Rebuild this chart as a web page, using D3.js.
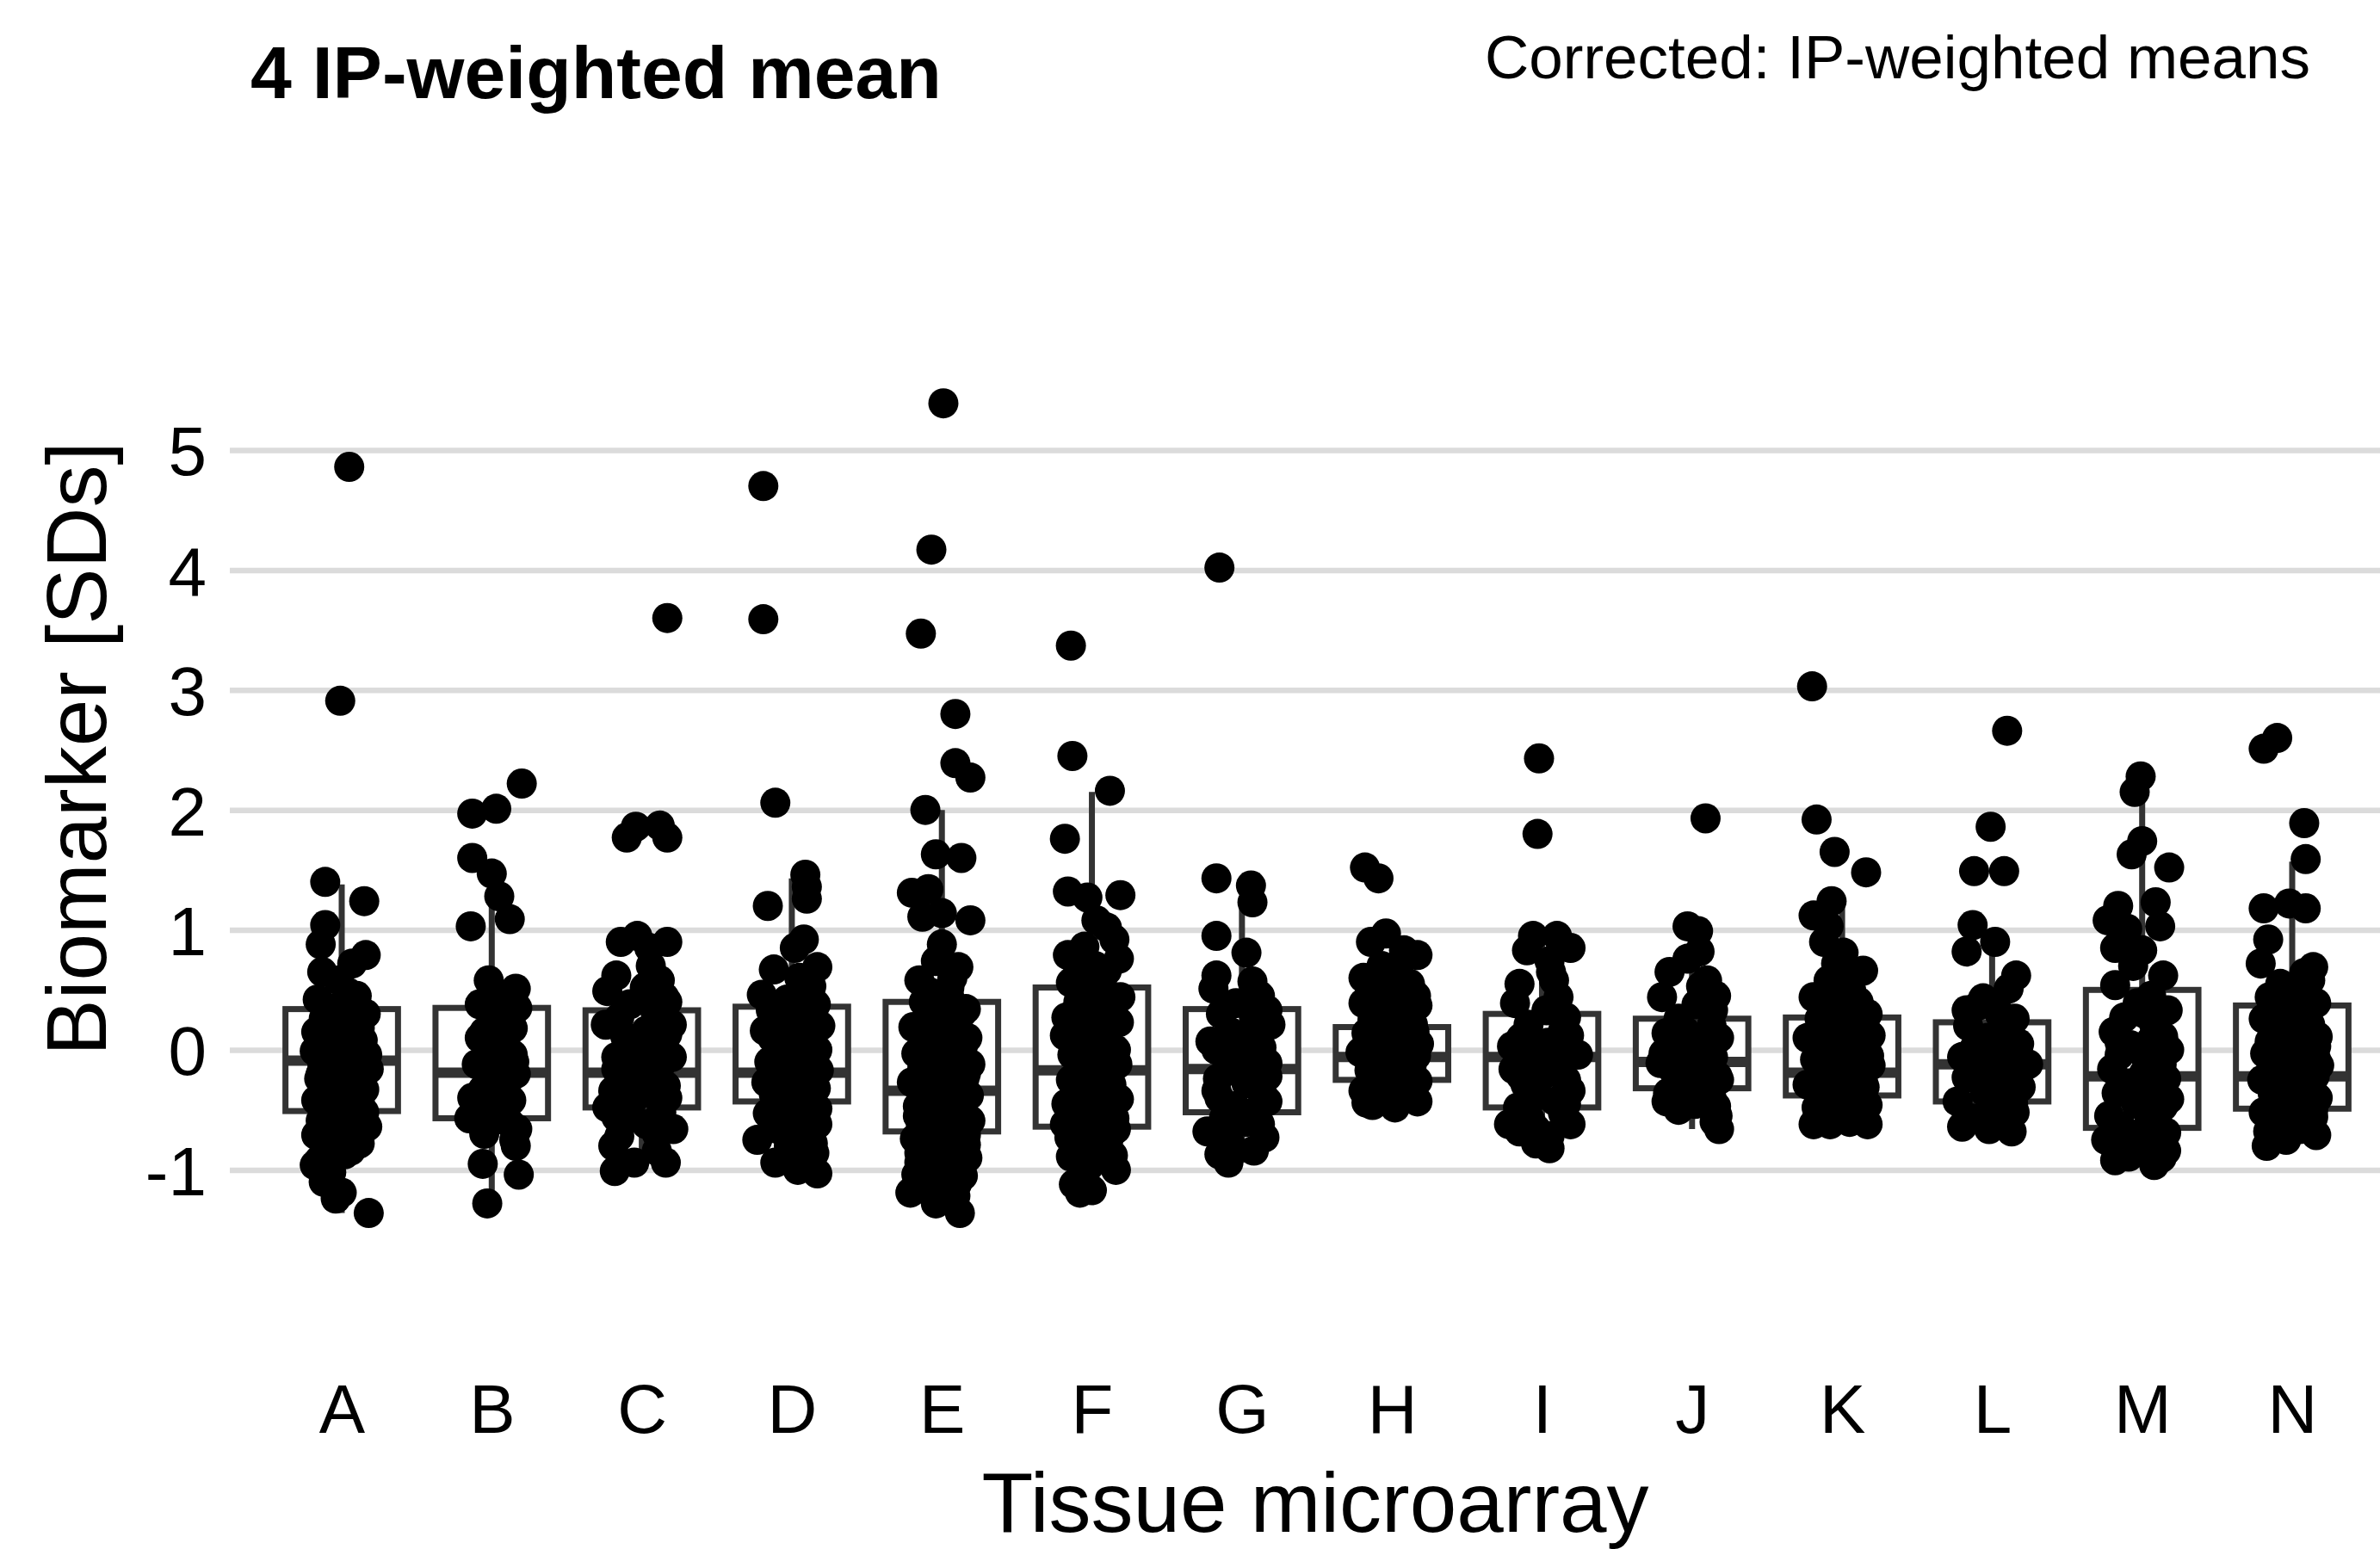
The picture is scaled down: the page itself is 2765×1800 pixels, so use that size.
<!DOCTYPE html>
<html><head><meta charset="utf-8">
<script src="https://cdn.jsdelivr.net/npm/d3@7"></script>
<style>body{margin:0;background:#fff}svg{display:block}text{font-family:"Liberation Sans",Arial,Helvetica,sans-serif;fill:#000}</style>
</head><body><svg id="c" width="2765" height="1800"></svg>
<script>
// ---------------- DATA ----------------
const categories = ["A","B","C","D","E","F","G","H","I","J","K","L","M","N"];
const yTicks = [-1, 0, 1, 2, 3, 4, 5];
const titleText = "4 IP-weighted mean";
const subtitleText = "Corrected: IP-weighted means";
const xTitle = "Tissue microarray";
const yTitle = "Biomarker [SDs]";

// box statistics
const whiskerLo = [-1.36,-1.28,-1.01,-1.03,-1.36,-1.19,-0.94,-0.48,-0.82,-0.66,-0.62,-0.68,-0.96,-0.80];
const q1s       = [-0.51,-0.57,-0.48,-0.43,-0.68,-0.64,-0.52,-0.25,-0.48,-0.32,-0.38,-0.43,-0.65,-0.49];
const medians   = [-0.09,-0.19,-0.19,-0.19,-0.34,-0.17,-0.16,-0.06,-0.06,-0.10,-0.19,-0.12,-0.22,-0.22];
const q3s       = [ 0.34, 0.35, 0.33, 0.36, 0.40, 0.52, 0.34, 0.19, 0.30, 0.26, 0.27, 0.23, 0.50, 0.37];
const whiskerHi = [ 1.38, 1.55, 0.95, 1.43, 2.00, 2.15, 1.27, 0.80, 0.95, 1.03, 1.22, 0.92, 2.25, 1.57];

// points: [value, jitter (fraction of category step)]
const ptsA = [[4.86,0.05],[2.91,-0.01],[1.40,-0.11],[1.24,0.15],[1.04,-0.11],[0.88,-0.14],[0.79,0.16],[0.72,0.07],[0.65,-0.13],[0.58,-0.02],
[0.48,0.04],[0.42,-0.16],[0.38,0.10],[0.33,-0.06],[0.30,0.16],[0.26,-0.12],[0.22,0.02],[0.18,0.12],[0.15,-0.17],[0.11,-0.03],[0.08,0.14],[0.05,-0.09],[0.02,0.06],[-0.01,-0.18],[-0.04,0.17],[-0.06,-0.02],[-0.09,0.09],[-0.11,-0.13],[-0.13,0.03],[-0.16,0.18],[-0.18,-0.07],[-0.21,0.11],[-0.24,-0.15],[-0.27,0.05],[-0.30,-0.04],[-0.33,0.15],[-0.36,-0.11],[-0.39,0.08],[-0.42,-0.17],[-0.45,0.01],[-0.48,0.13],[-0.51,-0.08],
[-0.55,0.04],[-0.59,-0.14],[-0.64,0.17],[-0.67,-0.03],[-0.71,-0.17],[-0.74,0.08],[-0.78,0.12],[-0.82,-0.10],[-0.87,0.02],[-0.92,-0.15],[-0.96,-0.18],[-1.02,-0.07],[-1.10,-0.12],[-1.19,0.00],[-1.24,-0.04],[-1.36,0.18],
[0.45,0.10],[0.36,-0.02],[0.28,0.08],[0.20,-0.09],[0.12,0.07],[0.03,-0.13],[-0.03,0.12],[-0.08,-0.05],[-0.15,0.08],[-0.20,-0.14],[-0.26,0.13],[-0.32,-0.01],[-0.38,-0.13],[-0.44,0.10],[-0.52,0.15],[-0.60,0.02],[-0.66,0.13],[-0.70,-0.09],[-0.76,-0.01],[-0.84,0.06]];
const ptsB = [[2.22,0.20],[2.01,0.03],[1.97,-0.13],[1.60,-0.13],[1.47,0.00],[1.28,0.05],[1.09,0.12],[1.03,-0.14],[0.58,-0.02],[0.51,0.16],[0.45,0.05],[0.38,-0.08],[0.35,0.17],[0.28,0.02],[0.22,0.12],[0.15,-0.05],[0.10,-0.08],[0.05,0.09],[0.00,-0.03],[-0.04,0.14],[-0.08,0.01],[-0.12,-0.10],[-0.16,0.07],[-0.20,0.16],[-0.24,-0.02],[-0.28,0.10],[-0.33,-0.06],[-0.37,0.04],[-0.42,0.13],[-0.47,-0.01],[-0.52,-0.11],[-0.57,-0.15],[-0.61,0.12],[-0.66,0.17],[-0.70,-0.05],[-0.75,0.15],[-0.80,0.16],[-0.95,-0.06],[-1.04,0.18],[-1.28,-0.03],
[0.18,0.14],[-0.10,0.15],[-0.40,-0.13],[-0.62,-0.04]];
const ptsC = [[3.60,0.17],[1.87,0.12],[1.86,-0.04],[1.77,-0.10],[1.77,0.17],[0.95,-0.03],[0.90,-0.14],[0.90,0.17],[0.85,0.05],[0.62,-0.17],[0.58,0.12],[0.52,0.02],[0.49,-0.23],[0.44,0.15],[0.38,-0.08],[0.32,0.09],[0.27,-0.15],[0.21,-0.24],[0.21,0.20],[0.16,0.03],[0.11,-0.11],[0.06,0.14],[0.01,-0.05],[-0.03,0.08],[-0.06,-0.17],[-0.06,0.20],[-0.10,0.00],[-0.14,0.12],[-0.18,-0.12],[-0.22,0.05],[-0.26,-0.03],[-0.30,0.16],[-0.34,-0.19],[-0.38,0.09],[-0.42,-0.06],[-0.48,-0.23],[-0.52,0.13],[-0.58,-0.10],[-0.62,0.03],[-0.66,0.21],[-0.72,-0.15],[-0.80,-0.19],[-0.84,0.10],[-0.94,0.16],[-0.94,-0.05],[-1.01,-0.18],
[0.70,0.06],[0.40,0.17],[0.13,0.17],[-0.16,-0.17],[-0.40,0.17],[-0.56,-0.17],[-0.70,0.10]];
const ptsD = [[4.70,-0.19],[3.59,-0.19],[2.06,-0.11],[1.46,0.09],[1.36,0.10],[1.26,0.10],[1.20,-0.16],[0.92,0.08],[0.85,0.02],[0.69,0.17],[0.67,-0.12],[0.60,0.05],[0.53,0.13],[0.46,-0.20],[0.42,-0.03],[0.38,0.16],[0.33,-0.14],[0.29,0.07],[0.24,-0.07],[0.20,0.19],[0.16,-0.18],[0.12,0.02],[0.08,0.12],[0.04,-0.10],[0.00,0.17],[-0.03,-0.02],[-0.07,0.09],[-0.10,-0.15],[-0.14,0.04],[-0.17,0.18],[-0.20,-0.08],[-0.23,0.11],[-0.27,-0.17],[-0.30,0.01],[-0.34,0.14],[-0.37,-0.12],[-0.41,0.07],[-0.45,-0.04],[-0.49,0.17],[-0.53,-0.16],[-0.57,0.03],[-0.62,0.17],[-0.66,-0.09],[-0.71,0.10],[-0.75,-0.23],[-0.80,-0.02],[-0.86,0.15],[-0.94,-0.11],[-1.00,0.04],[-1.03,0.17],
[0.48,0.08],[0.26,0.14],[0.10,-0.13],[-0.05,0.13],[-0.19,-0.13],[-0.32,0.16],[-0.44,0.12],[-0.59,-0.11],[-0.68,0.04],[-0.78,0.14]];
const ptsE = [[5.39,0.01],[4.17,-0.07],[3.47,-0.14],[2.80,0.09],[2.39,0.09],[2.27,0.19],[2.00,-0.11],[1.63,-0.04],[1.60,0.13],[1.34,-0.09],[1.31,-0.20],[1.14,0.00],[1.11,-0.13],[1.08,0.19],[0.88,0.00],[0.74,-0.04],[0.69,0.11],[0.58,-0.15],[0.52,0.05],[0.44,0.05],[0.40,-0.12],[0.34,0.16],[0.28,-0.05],[0.22,0.09],[0.19,-0.19],[0.14,0.02],[0.10,0.17],[0.05,-0.10],[0.01,0.08],[-0.03,-0.17],[-0.06,0.13],[-0.09,-0.03],[-0.12,0.19],[-0.15,-0.13],[-0.18,0.06],[-0.21,-0.07],[-0.24,0.15],[-0.27,-0.20],[-0.30,0.02],[-0.32,0.10],[-0.35,-0.11],[-0.38,0.18],[-0.41,-0.02],[-0.44,0.07],[-0.47,-0.16],[-0.50,0.13],[-0.53,-0.06],[-0.56,0.03],[-0.59,0.19],[-0.62,-0.14],[-0.65,0.09],[-0.68,-0.01],[-0.71,0.16],[-0.74,-0.18],[-0.77,0.05],[-0.80,-0.09],[-0.83,0.12],[-0.87,-0.04],[-0.90,0.17],[-0.94,-0.15],[-0.97,0.07],[-1.01,-0.06],[-1.05,0.14],[-1.09,-0.12],[-1.13,0.03],[-1.19,-0.21],[-1.22,0.09],[-1.28,-0.04],[-1.36,0.12],
[0.60,0.07],[0.48,-0.08],[0.30,0.13],[0.16,-0.12],[0.03,0.14],[-0.10,0.08],[-0.20,0.16],[-0.29,-0.13],[-0.36,0.05],[-0.46,0.14],[-0.55,-0.16],[-0.63,0.14],[-0.72,-0.08],[-0.79,0.16],[-0.86,-0.15],[-0.92,0.04],[-0.99,0.13],[-1.04,-0.17],[-1.12,0.10],[-1.18,-0.07]];
const ptsF = [[3.37,-0.14],[2.45,-0.13],[2.16,0.12],[1.76,-0.18],[1.32,-0.16],[1.29,0.19],[1.27,-0.03],[1.08,0.03],[1.02,0.10],[0.92,0.15],[0.86,-0.05],[0.79,-0.16],[0.76,0.18],[0.70,0.02],[0.62,-0.10],[0.56,-0.14],[0.50,0.08],[0.44,0.19],[0.40,-0.09],[0.36,0.03],[0.31,0.14],[0.27,-0.17],[0.23,0.18],[0.18,0.00],[0.12,-0.18],[0.08,0.10],[0.04,-0.06],[0.00,0.16],[-0.04,-0.13],[-0.08,0.05],[-0.12,0.17],[-0.16,-0.03],[-0.20,0.09],[-0.25,-0.14],[-0.29,0.13],[-0.33,-0.06],[-0.37,0.04],[-0.41,0.18],[-0.45,-0.17],[-0.49,0.07],[-0.53,-0.09],[-0.57,0.15],[-0.62,-0.18],[-0.66,0.16],[-0.70,-0.02],[-0.75,0.11],[-0.80,-0.12],[-0.85,0.06],[-0.89,-0.14],[-0.94,0.13],[-1.00,0.16],[-1.05,-0.06],[-1.12,-0.12],[-1.19,-0.08],[-1.17,0.00],
[0.66,0.10],[0.47,-0.02],[0.20,-0.09],[-0.02,0.10],[-0.22,-0.01],[-0.39,-0.08],[-0.60,0.03],[-0.73,-0.15],[-0.88,0.14],[-0.97,-0.02]];
const ptsG = [[4.02,-0.15],[1.43,-0.17],[1.37,0.06],[1.23,0.07],[0.95,-0.17],[0.81,0.03],[0.62,-0.17],[0.57,0.07],[0.51,-0.19],[0.45,0.12],[0.39,-0.04],[0.33,0.17],[0.27,0.08],[0.21,0.19],[0.15,-0.08],[0.07,-0.21],[0.10,0.02],[0.02,0.13],[-0.03,-0.12],[-0.07,0.05],[-0.11,0.17],[-0.15,-0.06],[-0.19,0.10],[-0.24,-0.16],[-0.28,0.03],[-0.34,-0.17],[-0.38,0.14],[-0.43,0.17],[-0.47,-0.05],[-0.52,0.08],[-0.57,-0.12],[-0.62,0.12],[-0.68,-0.23],[-0.73,0.15],[-0.78,-0.08],[-0.84,0.08],[-0.87,-0.15],[-0.94,-0.09],
[0.30,-0.14],[0.00,-0.17],[-0.22,0.17],[-0.40,-0.15],[-0.60,0.03]];
const ptsH = [[1.52,-0.18],[1.43,-0.09],[0.97,-0.04],[0.90,-0.14],[0.83,0.08],[0.79,0.17],[0.65,0.04],[0.60,-0.19],[0.55,0.12],[0.50,-0.06],[0.45,0.16],[0.39,-0.19],[0.37,0.17],[0.33,-0.05],[0.29,0.09],[0.25,-0.13],[0.21,0.14],[0.18,0.01],[0.14,-0.17],[0.11,0.11],[0.08,-0.04],[0.05,0.18],[0.02,-0.12],[-0.02,-0.21],[-0.01,0.06],[-0.05,0.16],[-0.08,-0.08],[-0.11,0.03],[-0.14,0.13],[-0.17,-0.15],[-0.20,0.08],[-0.23,-0.02],[-0.26,0.17],[-0.30,-0.11],[-0.34,-0.19],[-0.33,0.04],[-0.38,0.13],[-0.41,-0.06],[-0.43,0.17],[-0.46,-0.13],[-0.48,0.02],
[0.70,-0.07],[0.42,0.04],[0.15,0.15],[-0.04,-0.10],[-0.18,0.13],[-0.28,0.02],[-0.40,0.15],[-0.44,-0.17]];
const ptsI = [[2.43,-0.02],[1.80,-0.03],[0.95,-0.06],[0.95,0.10],[0.85,0.19],[0.83,-0.10],[0.74,0.05],[0.65,0.06],[0.55,-0.15],[0.44,0.11],[0.39,-0.18],[0.33,0.03],[0.27,0.16],[0.21,-0.09],[0.16,0.14],[0.10,-0.14],[0.06,0.04],[0.03,-0.20],[-0.01,0.12],[-0.04,0.24],[-0.08,-0.06],[-0.12,0.09],[-0.16,-0.19],[-0.20,0.02],[-0.25,0.16],[-0.29,-0.11],[-0.34,0.19],[-0.38,-0.03],[-0.43,0.09],[-0.48,-0.16],[-0.53,0.14],[-0.58,-0.08],[-0.62,-0.22],[-0.62,0.19],[-0.68,-0.15],[-0.72,0.05],[-0.78,-0.04],[-0.82,0.05],
[0.58,0.08],[0.12,0.18],[-0.22,-0.14],[-0.45,0.16],[-0.66,-0.04]];
const ptsJ = [[1.93,0.09],[1.03,-0.03],[0.99,0.04],[0.82,0.05],[0.76,-0.03],[0.65,-0.15],[0.58,0.10],[0.53,0.06],[0.44,-0.20],[0.38,0.03],[0.33,0.14],[0.26,-0.09],[0.20,0.13],[0.14,-0.17],[0.10,0.18],[0.05,-0.05],[0.01,0.07],[-0.03,-0.19],[-0.06,0.14],[-0.10,-0.02],[-0.11,-0.21],[-0.14,0.10],[-0.18,-0.12],[-0.22,0.17],[-0.25,0.18],[-0.28,-0.08],[-0.32,0.05],[-0.36,-0.16],[-0.40,0.13],[-0.43,-0.17],[-0.47,0.16],[-0.50,-0.09],[-0.55,0.17],[-0.60,0.15],[-0.66,0.18],
[0.45,0.16],[0.15,-0.04],[-0.20,0.05],[-0.45,0.02]];
const ptsK = [[3.03,-0.20],[1.92,-0.17],[1.65,-0.05],[1.48,0.16],[1.24,-0.07],[1.12,-0.19],[1.03,-0.09],[0.90,-0.12],[0.81,0.01],[0.72,-0.04],[0.66,0.14],[0.58,-0.09],[0.50,0.06],[0.44,-0.19],[0.40,0.11],[0.35,-0.02],[0.30,0.17],[0.26,-0.15],[0.22,0.08],[0.18,-0.06],[0.14,0.15],[0.12,0.19],[0.10,-0.23],[0.07,0.02],[0.04,-0.13],[0.01,0.12],[-0.02,-0.03],[-0.05,0.18],[-0.08,-0.18],[-0.11,0.06],[-0.13,0.19],[-0.16,-0.09],[-0.19,0.10],[-0.22,-0.15],[-0.25,0.03],[-0.29,-0.23],[-0.31,0.15],[-0.34,-0.05],[-0.38,0.08],[-0.42,-0.14],[-0.46,0.17],[-0.50,-0.02],[-0.54,0.11],[-0.58,-0.17],[-0.62,-0.19],[-0.62,-0.08],[-0.62,0.17],[-0.60,0.05],
[0.62,0.06],[0.46,-0.04],[0.33,0.09],[0.16,-0.15],[-0.03,0.14],[-0.17,0.02],[-0.27,0.14],[-0.40,-0.01],[-0.48,-0.17],[-0.56,0.14]];
const ptsL = [[2.66,0.10],[1.86,-0.01],[1.49,-0.12],[1.49,0.08],[1.04,-0.13],[0.90,0.02],[0.82,-0.17],[0.62,0.16],[0.51,0.11],[0.43,-0.06],[0.37,-0.09],[0.30,0.05],[0.26,0.15],[0.20,-0.16],[0.15,0.09],[0.10,-0.03],[0.05,0.18],[0.01,-0.12],[-0.03,0.12],[-0.06,-0.20],[-0.09,0.02],[-0.12,0.24],[-0.16,-0.09],[-0.19,0.14],[-0.23,-0.17],[-0.27,0.06],[-0.31,0.19],[-0.35,-0.05],[-0.39,0.11],[-0.43,-0.23],[-0.47,0.02],[-0.52,0.15],[-0.57,-0.14],[-0.61,0.08],[-0.64,-0.20],[-0.66,-0.02],[-0.68,0.13],
[0.33,-0.17],[0.08,0.14],[-0.20,-0.03],[-0.45,0.14],[-0.55,-0.05]];
const ptsM = [[2.28,-0.01],[2.15,-0.05],[1.74,0.00],[1.63,-0.07],[1.52,0.18],[1.23,0.09],[1.20,-0.16],[1.08,-0.23],[1.03,0.12],[1.01,-0.10],[0.85,-0.18],[0.83,0.00],[0.62,0.14],[0.54,-0.18],[0.45,0.06],[0.39,-0.03],[0.33,0.17],[0.27,-0.12],[0.21,0.08],[0.15,-0.19],[0.11,0.14],[0.08,0.06],[0.04,-0.08],[0.00,0.18],[-0.04,-0.15],[-0.08,0.03],[-0.12,0.13],[-0.16,-0.20],[-0.20,0.01],[-0.24,0.16],[-0.28,-0.09],[-0.32,0.09],[-0.36,-0.17],[-0.41,0.18],[-0.45,-0.04],[-0.49,0.12],[-0.55,-0.22],[-0.59,0.05],[-0.64,-0.14],[-0.69,0.16],[-0.75,-0.24],[-0.79,0.02],[-0.84,0.16],[-0.89,-0.09],[-0.92,-0.18],[-0.96,0.08],[-0.90,0.13],
[0.70,-0.06],[0.30,0.02],[0.06,-0.15],[-0.14,0.10],[-0.30,-0.02],[-0.47,0.14],[-0.62,0.10],[-0.72,-0.07],[-0.82,-0.13],[-0.86,0.04]];
const ptsN = [[2.60,-0.10],[2.51,-0.19],[1.89,0.08],[1.59,0.09],[1.22,-0.02],[1.18,-0.19],[1.18,0.09],[0.92,-0.16],[0.72,-0.21],[0.69,0.14],[0.64,0.08],[0.55,-0.08],[0.48,0.05],[0.39,-0.11],[0.39,0.16],[0.33,0.00],[0.26,-0.19],[0.21,0.12],[0.16,-0.07],[0.11,0.17],[0.07,-0.15],[0.03,0.16],[0.00,0.03],[-0.03,-0.18],[-0.06,0.10],[-0.10,-0.06],[-0.13,0.18],[-0.16,-0.14],[-0.19,0.06],[-0.22,0.15],[-0.25,-0.20],[-0.28,-0.01],[-0.32,0.12],[-0.36,-0.13],[-0.40,0.17],[-0.44,-0.04],[-0.48,0.09],[-0.52,-0.19],[-0.56,0.14],[-0.61,-0.08],[-0.66,0.05],[-0.71,0.16],[-0.75,-0.04],[-0.80,-0.17],[-0.72,-0.11],
[0.58,0.12],[0.44,-0.15],[0.23,0.02],[0.09,-0.02],[-0.08,0.16],[-0.20,-0.08],[-0.34,0.04],[-0.50,0.14],[-0.58,-0.12],[-0.68,-0.16]];
const pointSets = [ptsA,ptsB,ptsC,ptsD,ptsE,ptsF,ptsG,ptsH,ptsI,ptsJ,ptsK,ptsL,ptsM,ptsN];

// ---------------- CHART ----------------
const panelLeft = 267, panelRight = 2765;
const svg = d3.select("#c");

const x = d3.scalePoint().domain(categories).range([397, 2663]);
const y = d3.scaleLinear().domain([-1, 5]).range([1359.4, 523]);
const step = x.step();
const boxW = 0.75 * step;

// gridlines
const grid = svg.append("g").attr("transform", `translate(${panelLeft},0)`)
  .call(d3.axisLeft(y).tickValues(yTicks).tickSize(-(panelRight - panelLeft)).tickFormat(""));
grid.select(".domain").remove();
grid.selectAll("line").attr("stroke", "#DBDBDB").attr("stroke-width", 6.5);

// y axis labels
const ya = svg.append("g").attr("transform", "translate(240,0)")
  .call(d3.axisLeft(y).tickValues(yTicks).tickSize(0).tickPadding(0).tickFormat(d => String(d)));
ya.select(".domain").remove();
ya.selectAll("text").attr("font-size", 80).attr("fill", "#000").attr("dy", "0.36em")
  .style("font-family", '"Liberation Sans", Arial, sans-serif');

// x axis labels
const xa = svg.append("g").attr("transform", "translate(0,1608)")
  .call(d3.axisBottom(x).tickSize(0).tickPadding(0));
xa.select(".domain").remove();
xa.selectAll("text").attr("font-size", 80).attr("fill", "#000")
  .style("font-family", '"Liberation Sans", Arial, sans-serif');

// boxplots
const boxes = svg.append("g");
categories.forEach((c, i) => {
  const cx = x(c);
  const g = boxes.append("g").attr("stroke", "#333333").attr("stroke-width", 7);
  g.append("line").attr("x1", cx).attr("x2", cx).attr("y1", y(whiskerHi[i])).attr("y2", y(q3s[i]));
  g.append("line").attr("x1", cx).attr("x2", cx).attr("y1", y(q1s[i])).attr("y2", y(whiskerLo[i]));
  g.append("rect").attr("x", cx - boxW / 2).attr("width", boxW)
    .attr("y", y(q3s[i])).attr("height", y(q1s[i]) - y(q3s[i])).attr("fill", "#fff");
  g.append("line").attr("x1", cx - boxW / 2).attr("x2", cx + boxW / 2)
    .attr("y1", y(medians[i])).attr("y2", y(medians[i])).attr("stroke-width", 12);
});

// jittered points
const pts = svg.append("g");
categories.forEach((c, i) => {
  pts.selectAll(null).data(pointSets[i]).enter().append("circle")
    .attr("cx", d => x(c) + d[1] * step)
    .attr("cy", d => y(d[0]))
    .attr("r", 17.5)
    .attr("fill", "#000");
});

// titles
svg.append("text").attr("x", 291).attr("y", 114).attr("font-size", 86).attr("font-weight", "bold").text(titleText);
svg.append("text").attr("x", 2684).attr("y", 91).attr("font-size", 71).attr("text-anchor", "end").text(subtitleText);
svg.append("text").attr("x", 1528).attr("y", 1780).attr("font-size", 98).attr("text-anchor", "middle").text(xTitle);
svg.append("text").attr("transform", "translate(123,870) rotate(-90)").attr("font-size", 98)
  .attr("text-anchor", "middle").text(yTitle);
</script></body></html>
